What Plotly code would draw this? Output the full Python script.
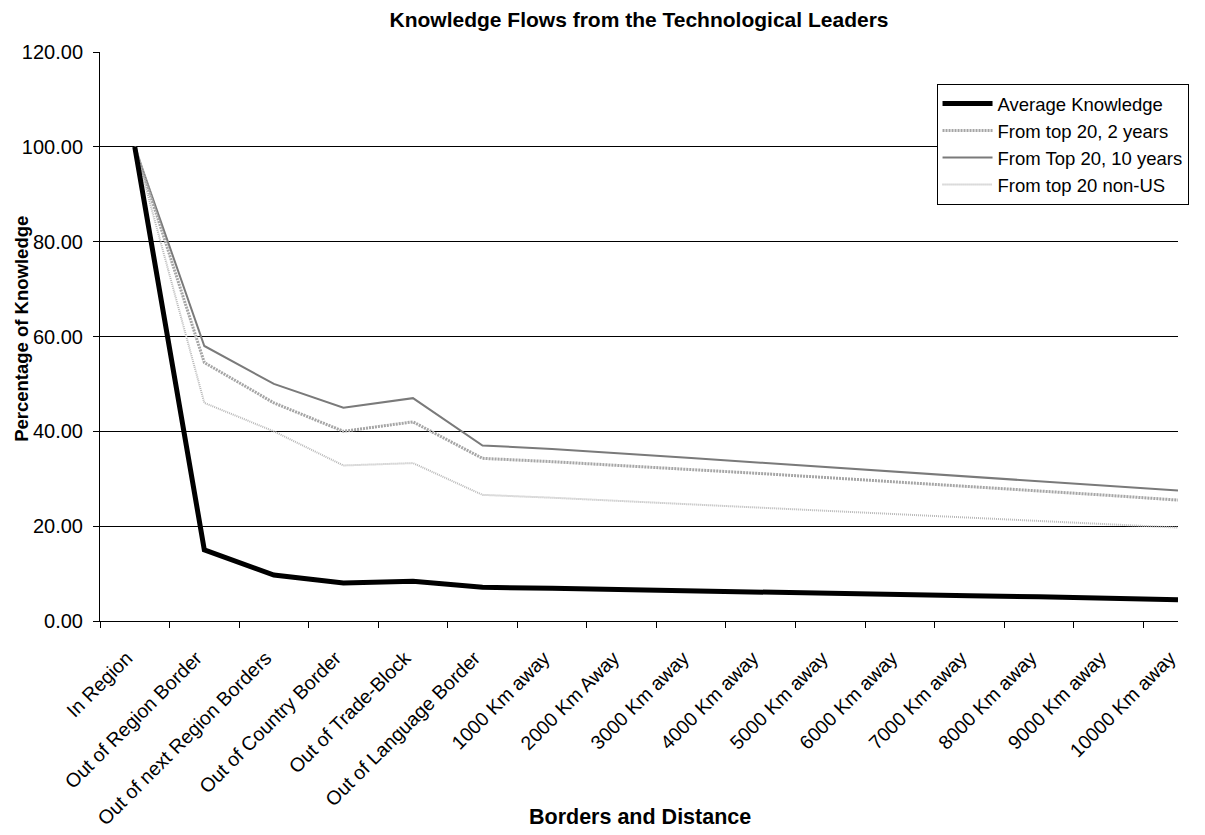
import plotly.graph_objects as go

categories = ["In Region", "Out of Region Border", "Out of next Region Borders",
              "Out of Country Border", "Out of Trade-Block", "Out of Language Border",
              "1000 Km away", "2000 Km Away", "3000 Km away", "4000 Km away",
              "5000 Km away", "6000 Km away", "7000 Km away", "8000 Km away",
              "9000 Km away", "10000 Km away"]

average_knowledge = [100.0, 15.0, 9.7, 8.0, 8.4, 7.1, 6.9, 6.6, 6.4, 6.1, 5.9, 5.6, 5.3, 5.1, 4.8, 4.5]
top20_2years = [100.0, 54.5, 46.0, 40.0, 42.0, 34.3, 33.6, 32.8, 32.0, 31.1, 30.2, 29.3, 28.4, 27.4, 26.5, 25.5]
top20_10years = [100.0, 58.0, 50.0, 45.0, 47.0, 37.0, 36.3, 35.4, 34.4, 33.4, 32.4, 31.5, 30.5, 29.5, 28.5, 27.5]
top20_nonus = [100.0, 46.0, 40.0, 32.8, 33.3, 26.6, 26.0, 25.3, 24.6, 23.9, 23.2, 22.5, 21.8, 21.1, 20.4, 19.7]

y_ticks = [0, 20, 40, 60, 80, 100, 120]

FONT = "Liberation Sans, Arial, sans-serif"

fig = go.Figure()
fig.add_trace(go.Scatter(x=categories, y=top20_nonus, name="From top 20 non-US", mode="lines",
                         line=dict(color="#b8b8b8", width=2, dash="1px,1px")))
fig.add_trace(go.Scatter(x=categories, y=top20_10years, name="From Top 20, 10 years", mode="lines",
                         line=dict(color="#7a7a7a", width=2)))
fig.add_trace(go.Scatter(x=categories, y=top20_2years, name="From top 20, 2 years", mode="lines",
                         line=dict(color="#a6a6a6", width=3, dash="2px,1px")))
fig.add_trace(go.Scatter(x=categories, y=average_knowledge, name="Average Knowledge", mode="lines",
                         line=dict(color="#000000", width=5)))

fig.update_layout(
    width=1205, height=835,
    margin=dict(l=92, r=35, t=44, b=222),
    paper_bgcolor="white", plot_bgcolor="white",
    font=dict(family=FONT, size=18, color="black"),
    title=dict(text="<b>Knowledge Flows from the Technological Leaders</b>",
               x=0.5, xref="paper", xanchor="center", y=0.986, yanchor="middle",
               font=dict(size=21)),
    showlegend=True,
    legend=dict(x=0.776, y=0.944, xanchor="left", yanchor="top",
                bordercolor="black", borderwidth=1, bgcolor="white",
                traceorder="reversed", font=dict(size=18.5),
                tracegroupgap=0, itemwidth=50),
    xaxis=dict(
        type="category", categoryorder="array", categoryarray=categories,
        range=[-0.5, 15.0],
        tickson="boundaries", ticks="outside", ticklen=6, tickcolor="black",
        showline=True, linecolor="black", linewidth=1,
        showgrid=False, tickangle=-45, tickfont=dict(size=19.5),
        ticklabelstandoff=17, ticklabelshift=-8,
    ),
    yaxis=dict(
        range=[0, 120], tickvals=y_ticks, tickformat=".2f",
        ticks="outside", ticklen=6, tickcolor="black",
        showline=True, linecolor="black", linewidth=1,
        showgrid=True, gridcolor="black", gridwidth=1,
        zeroline=False, tickfont=dict(size=20),
        ticklabelstandoff=6,
    ),
    annotations=[
        dict(text="<b>Borders and Distance</b>", xref="paper", yref="paper",
             x=0.501, y=-0.344, xanchor="center", yanchor="middle",
             showarrow=False, font=dict(size=21.5)),
        dict(text="<b>Percentage of Knowledge</b>", xref="paper", yref="paper",
             x=-0.0735, y=0.513, xanchor="center", yanchor="middle", textangle=-90,
             showarrow=False, font=dict(size=18.5)),
    ],
)

fig.write_html("out.html")
